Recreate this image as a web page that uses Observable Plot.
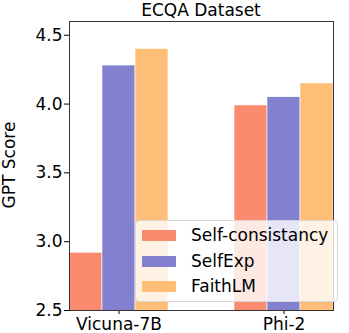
<!DOCTYPE html>
<html>
<head>
<meta charset="utf-8">
<script src="https://cdn.jsdelivr.net/npm/d3@7"></script>
<script src="https://cdn.jsdelivr.net/npm/@observablehq/plot@0.6"></script>
<style>
  html, body { margin: 0; padding: 0; background: #fff; }
  #wrap { position: relative; width: 349px; height: 333px; font-family: "DejaVu Sans", sans-serif; color: #000; }
  #title { position: absolute; left: 55px; width: 292px; top: 0px; text-align: center; font-size: 17px; line-height: 20px; }
  #ylabel { position: absolute; left: 9px; top: 165px; transform: translate(-50%, -50%) rotate(-90deg); font-size: 17px; line-height: 20px; white-space: nowrap; }
  #legend { position: absolute; left: 135px; top: 220px; width: 201px; height: 80px; background: rgba(255,255,255,0.8); border: 1px solid #d6d6d6; border-radius: 4px; box-sizing: content-box; }
  .row { position: absolute; left: 0; height: 20px; font-size: 17px; line-height: 20px; }
  .sw { position: absolute; left: 6px; top: 5px; width: 34px; height: 11px; }
  .lb { position: absolute; left: 55px; top: 0; white-space: nowrap; }
</style>
</head>
<body>
<div id="wrap">
  <div id="chart"></div>
  <div id="title"></div>
  <div id="ylabel"></div>
  <div id="legend"></div>
</div>
<script>
const title = "ECQA Dataset";
const categories = ["Vicuna-7B", "Phi-2"];
const methods = ["Self-consistancy", "SelfExp", "FaithLM"];
const colors = ["#FA8B6E", "#8380D0", "#FFBE78"];
const selfConsistancy = [2.92, 3.99];
const selfExp = [4.28, 4.05];
const faithLM = [4.40, 4.15];
const yTicks = [2.5, 3.0, 3.5, 4.0, 4.5];
const yLabel = "GPT Score";

const series = [selfConsistancy, selfExp, faithLM];
const data = [];
categories.forEach((c, i) => methods.forEach((m, j) => data.push({category: c, method: m, value: series[j][i]})));

const plot = Plot.plot({
  width: 349,
  height: 333,
  marginLeft: 55,
  marginRight: 2,
  marginTop: 21,
  marginBottom: 23,
  style: {fontFamily: "DejaVu Sans, sans-serif", fontSize: "17px", color: "#000", background: "#fff"},
  fx: {domain: categories, label: null, paddingInner: 0.4, paddingOuter: 0.08, tickSize: 4, tickPadding: 3},
  x: {domain: methods, padding: 0, axis: null},
  y: {domain: [2.5, 4.6]},
  color: {domain: methods, range: colors},
  marks: [
    Plot.barY(data, {fx: "category", x: "method", y: "value", fill: "method", stroke: "#fff", strokeWidth: 0.6, clip: true}),
    Plot.axisY({ticks: yTicks, tickFormat: d3.format(".1f"), tickSize: 5, tickPadding: 2, fontSize: 17, label: null}),
    Plot.frame({facet: "super", stroke: "#333", strokeWidth: 1})
  ]
});
document.getElementById("chart").appendChild(plot);
document.getElementById("title").textContent = title;
document.getElementById("ylabel").textContent = yLabel;

const legend = document.getElementById("legend");
methods.forEach((m, i) => {
  const row = document.createElement("div");
  row.className = "row";
  row.style.top = (4 + i * 25.5) + "px";
  const sw = document.createElement("div");
  sw.className = "sw";
  sw.style.background = colors[i];
  const lb = document.createElement("div");
  lb.className = "lb";
  lb.textContent = m;
  row.appendChild(sw);
  row.appendChild(lb);
  legend.appendChild(row);
});
</script>
</body>
</html>
